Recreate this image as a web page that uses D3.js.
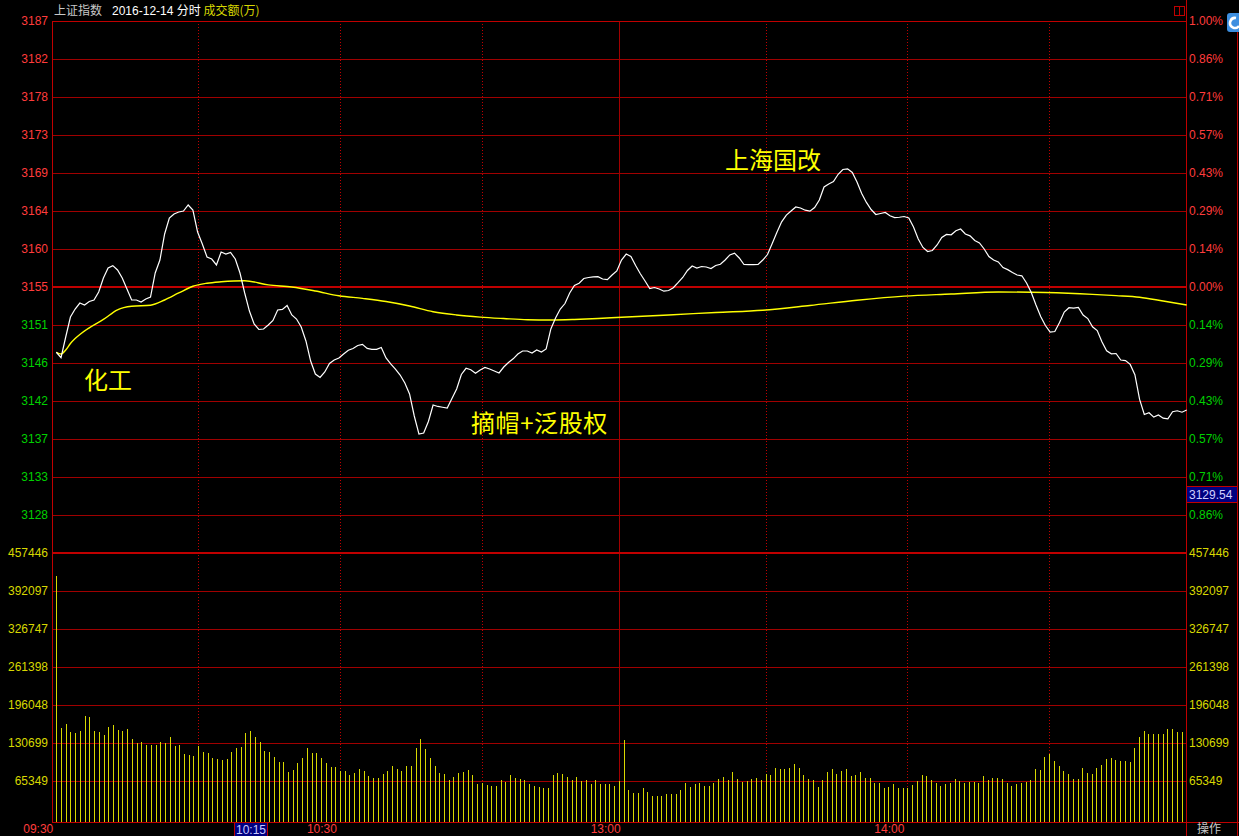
<!DOCTYPE html>
<html><head><meta charset="utf-8">
<script src="https://cdn.jsdelivr.net/npm/d3@7"></script>
<style>html,body{margin:0;padding:0;background:#000;overflow:hidden}</style>
</head><body>
<svg id="c" width="1239" height="836"></svg>
<script>
// ---------- data ----------
const prevClose = 3155.04;
const priceLabels = ["3187","3182","3178","3173","3169","3164","3160","3155","3151","3146","3142","3137","3133","3128"];
const pctLabels = ["1.00%","0.86%","0.71%","0.57%","0.43%","0.29%","0.14%","0.00%","0.14%","0.29%","0.43%","0.57%","0.71%","0.86%"];
const volLabels = ["457446","392097","326747","261398","196048","130699","65349"];
const volMax = 457446;
const timeLabels = ["09:30","10:30","13:00","14:00"];
const timeLabelIdx = [0,60,120,180];
const dottedIdx = [30,60,90,150,180,210];
const solidIdx = [119];
const prices = [3147.30,3146.65,3149.11,3151.48,3152.43,3153.14,3152.91,3153.32,3153.50,3154.45,
3156.11,3157.29,3157.57,3157.06,3156.11,3154.80,3153.50,3153.50,3153.26,3153.62,
3153.85,3156.70,3158.24,3161.33,3163.22,3163.70,3163.94,3164.05,3164.77,3164.17,
3161.56,3160.14,3158.60,3158.36,3157.65,3159.19,3158.95,3159.13,3158.36,3156.70,
3154.33,3152.19,3150.65,3150.00,3150.06,3150.53,3151.07,3152.31,3152.39,3152.85,
3151.72,3151.24,3150.30,3148.64,3146.26,3144.72,3144.31,3144.96,3145.97,3146.38,
3146.62,3147.09,3147.53,3147.75,3148.10,3148.24,3147.75,3147.65,3147.65,3147.86,
3146.62,3145.91,3145.31,3144.60,3143.65,3142.35,3139.74,3137.60,3137.72,3139.09,
3141.04,3140.87,3140.78,3140.69,3141.81,3142.94,3144.66,3145.40,3145.22,3144.80,
3145.20,3145.49,3145.31,3145.08,3144.84,3145.55,3146.09,3146.52,3147.09,3147.45,
3147.45,3147.21,3147.57,3147.33,3147.69,3150.06,3151.36,3152.43,3153.08,3154.33,
3155.22,3155.48,3156.05,3156.17,3156.23,3156.26,3155.99,3155.91,3156.46,3156.94,
3158.24,3158.95,3158.66,3157.59,3156.61,3155.75,3154.86,3154.98,3154.80,3154.54,
3154.62,3154.96,3155.55,3156.17,3157.00,3157.53,3157.29,3157.47,3157.41,3157.23,
3157.59,3157.74,3158.24,3158.84,3159.05,3158.48,3157.71,3157.69,3157.69,3157.71,
3158.24,3158.89,3160.20,3161.53,3162.77,3163.56,3164.05,3164.53,3164.41,3164.15,
3164.03,3164.47,3165.36,3166.90,3167.26,3167.55,3168.41,3168.98,3169.06,3168.62,
3167.49,3166.13,3165.07,3164.23,3163.64,3163.76,3163.88,3163.49,3163.28,3163.31,
3163.40,3163.22,3162.16,3160.73,3159.73,3159.25,3159.37,3160.02,3160.91,3161.27,
3161.23,3161.71,3161.92,3161.33,3161.11,3160.56,3160.26,3159.55,3158.66,3158.24,
3158.01,3157.35,3157.10,3156.76,3156.46,3156.37,3155.51,3154.39,3152.91,3151.54,
3150.47,3149.70,3149.76,3150.83,3152.07,3152.58,3152.53,3152.61,3151.72,3151.30,
3150.32,3149.88,3148.54,3147.47,3147.12,3147.15,3146.38,3146.31,3145.86,3144.64,
3141.70,3139.92,3140.13,3139.61,3139.86,3139.48,3139.41,3140.24,3140.36,3140.19,
3140.45];
const avgMinutes = [0,1,2,3,4,5,7,10,13,16,20,23,26,29,32,35,40,45,50,55,60,65,70,75,80,85,90,95,100,105,110,115,120,130,140,150,160,170,180,190,200,210,220,225,230,235,240];
const avgPrices = [3147.30,3147.09,3147.57,3148.34,3148.93,3149.41,3150.20,3151.19,3152.34,3152.75,3152.88,3153.50,3154.33,3155.13,3155.49,3155.66,3155.79,3155.29,3155.04,3154.57,3154.00,3153.69,3153.32,3152.79,3152.11,3151.72,3151.47,3151.30,3151.16,3151.13,3151.19,3151.30,3151.46,3151.72,3152.02,3152.29,3152.85,3153.47,3153.96,3154.21,3154.45,3154.38,3154.17,3154.02,3153.83,3153.38,3152.91];
const volumes = [417200,157500,164400,150100,148900,151800,178200,176400,151800,150100,
145500,159200,162700,153600,151800,155800,138100,131700,133400,128300,
128300,128300,133400,131700,142000,126600,128300,112800,111100,109400,
126600,116300,114500,105900,104200,102500,104200,116300,123100,124800,
148900,152400,142000,133400,118000,116300,107700,98000,99100,81900,
85300,97300,105900,123100,113500,113500,105900,97300,90500,90500,
82500,83600,76700,80100,87000,83600,75000,71500,71500,78400,
83600,92200,87000,83600,92200,92200,123100,138400,121200,105700,
92000,79900,77900,67600,72700,79600,81300,84800,76200,60700,
62400,59000,57300,57300,67600,64100,76200,71000,69300,67600,
60700,57300,55500,53800,53800,76200,79600,77900,72700,67600,
72700,65900,67600,60700,67600,60700,60700,60700,57300,65900,
136400,50400,45200,45200,53800,46900,40100,40100,40100,43500,
43500,43500,50400,62400,55500,60700,62400,57300,57300,62400,
69300,72700,67600,81300,69300,64100,65900,69300,71000,67600,
77900,76200,88200,86500,86500,88200,95100,88200,76200,69300,
67600,55500,67600,81300,86500,77900,83100,86500,74500,76200,
81300,71000,71000,62400,62400,53800,55500,60700,53800,53800,
53800,59000,65900,76200,74500,67600,62400,57300,60700,62400,
69300,65900,62400,64100,64100,62400,74500,67600,71000,71000,
69300,62400,57300,60700,62400,64100,67600,86500,84800,107100,
112300,100300,91700,83100,77900,69300,69300,88200,79600,77900,
88200,93400,103700,105400,102000,100300,100300,98500,122600,141500,
151800,146700,146700,146700,146700,155300,155300,150100,150100,220600];

// ---------- layout ----------
const svg = d3.select("#c");
const L = 52, R = 1186, T = 21, MID = 553, VBASE = 819.3, FBOT = 822;
const GRID = "#a00000", FRAME = "#c00000";
const RED = "#ff3c3c", GREEN = "#00d000", YEL = "#d8d800";
const FONT = "'Liberation Sans', Arial, sans-serif";
const CJK = "'Noto Sans CJK SC', sans-serif";

svg.append("rect").attr("width",1239).attr("height",836).attr("fill","#000");

const yPrice = d3.scaleLinear().domain([prevClose*0.99, prevClose*1.01]).range([MID, T]);
const yVol = d3.scaleLinear().domain([0, volMax]).range([VBASE, MID]);
const xLine = d3.scaleLinear().domain([0, prices.length-1]).range([56.3, 1186.7]);
const xBar = d3.scaleLinear().domain([0, volumes.length-1]).range([56.3, 1186.3]);

const g = svg.append("g").attr("shape-rendering","crispEdges");
const priceGridVals = d3.range(7,-8,-1).map(k => prevClose*(1+k/700));
priceGridVals.forEach((v,i) => {
  const y = Math.round(yPrice(v)) + 0.5;
  if (i === 7) return;
  g.append("line").attr("x1",L).attr("x2",R).attr("y1",y).attr("y2",y).attr("stroke",GRID);
});
const volGridVals = d3.range(6,0,-1).map(k => volMax*k/7);
volGridVals.forEach(v => {
  const y = Math.round(yVol(v)) + 0.5;
  g.append("line").attr("x1",L).attr("x2",R).attr("y1",y).attr("y2",y).attr("stroke",GRID);
});
dottedIdx.forEach(i => {
  const x = Math.round(xBar(i)) + 0.5;
  g.append("line").attr("x1",x).attr("x2",x).attr("y1",T).attr("y2",FBOT)
    .attr("stroke",FRAME).attr("stroke-dasharray","1,2");
});
solidIdx.forEach(i => {
  const x = Math.round(xBar(i)) + 0.5;
  g.append("line").attr("x1",x).attr("x2",x).attr("y1",T).attr("y2",FBOT).attr("stroke",GRID);
});

// volume bars
g.selectAll("line.vol").data(volumes).join("line").attr("class","vol")
  .attr("x1",(d,i)=>Math.round(xBar(i))+0.5).attr("x2",(d,i)=>Math.round(xBar(i))+0.5)
  .attr("y1",d=>yVol(d)).attr("y2",FBOT)
  .attr("stroke",YEL).attr("stroke-width",1);

const y0 = yPrice(prevClose);
g.append("rect").attr("x",L).attr("y",Math.round(y0)-1).attr("width",R-L).attr("height",2).attr("fill",FRAME);
g.append("rect").attr("x",L).attr("y",MID-1).attr("width",R-L).attr("height",2).attr("fill",FRAME);

// frame
g.append("line").attr("x1",L+0.5).attr("x2",L+0.5).attr("y1",T).attr("y2",FBOT+1).attr("stroke",FRAME);
g.append("line").attr("x1",L).attr("x2",R).attr("y1",T+0.5).attr("y2",T+0.5).attr("stroke",FRAME);
g.append("line").attr("x1",R+0.5).attr("x2",R+0.5).attr("y1",0).attr("y2",836).attr("stroke",FRAME);
g.append("line").attr("x1",L).attr("x2",1239).attr("y1",FBOT+0.5).attr("y2",FBOT+0.5).attr("stroke",FRAME);
g.append("line").attr("x1",1237.5).attr("x2",1237.5).attr("y1",T).attr("y2",836).attr("stroke",FRAME);

// avg line
svg.append("path").datum(avgPrices)
  .attr("d", d3.line().x((d,i)=>xLine(avgMinutes[i])).y(d=>yPrice(d)).curve(d3.curveMonotoneX))
  .attr("fill","none").attr("stroke","#ffff00").attr("stroke-width",1.4);
// price line
svg.append("path").datum(prices)
  .attr("d", d3.line().x((d,i)=>xLine(i)).y(d=>yPrice(d)))
  .attr("fill","none").attr("stroke","#ffffff").attr("stroke-width",1.2);

// cursor readout boxes (drawn before texts)
svg.append("rect").attr("x",1186.5).attr("y",486.5).attr("width",51).attr("height",16).attr("fill","#000080").attr("stroke",FRAME);
svg.append("rect").attr("x",234.5).attr("y",822.5).attr("width",33).attr("height",14).attr("fill","#000080").attr("stroke",FRAME);

// axis labels
const lab = svg.append("g").attr("font-family",FONT).attr("font-size",12);
priceGridVals.forEach((v,i) => {
  const y = yPrice(v) + 4;
  const col = i <= 7 ? RED : GREEN;
  lab.append("text").attr("x",48).attr("y",y).attr("text-anchor","end").attr("fill",col).text(priceLabels[i]);
  lab.append("text").attr("x",1189).attr("y",y).attr("fill",col).text(pctLabels[i]);
});
[volMax, ...volGridVals].forEach((v,i) => {
  const y = yVol(v) + 4;
  lab.append("text").attr("x",48).attr("y",y).attr("text-anchor","end").attr("fill",YEL).text(volLabels[i]);
  lab.append("text").attr("x",1189).attr("y",y).attr("fill",YEL).text(volLabels[i]);
});
timeLabels.forEach((t,i) => {
  lab.append("text").attr("x",xBar(timeLabelIdx[i])-3).attr("y",833).attr("text-anchor","end").attr("fill",RED).text(t);
});
lab.append("text").attr("x",1189).attr("y",499).attr("fill","#d0d0ff").text("3129.54");
lab.append("text").attr("x",236).attr("y",834).attr("fill","#c8c8ff").text("10:15");
svg.append("text").attr("x",1197).attr("y",833).attr("font-family",CJK).attr("font-size",12).attr("fill","#c8c8c8").text("操作");

// header
const hd = svg.append("text").attr("x",54).attr("y",15).attr("font-family",FONT+","+CJK).attr("font-size",12);
hd.append("tspan").attr("fill","#c8c8c8").attr("font-family",CJK).text("上证指数");
hd.append("tspan").attr("dx",10).attr("fill","#ffffff").text("2016-12-14 ");
hd.append("tspan").attr("fill","#ffffff").attr("font-family",CJK).text("分时 ");
hd.append("tspan").attr("fill",YEL).attr("font-family",CJK).text("成交额(万)");

// top-right icons
svg.append("rect").attr("x",1174.5).attr("y",6.5).attr("width",10).attr("height",9).attr("fill","none").attr("stroke",FRAME);
svg.append("line").attr("x1",1179.5).attr("x2",1179.5).attr("y1",6.5).attr("y2",15.5).attr("stroke",FRAME);
svg.append("rect").attr("x",1227).attr("y",13).attr("width",16).attr("height",19).attr("rx",3).attr("fill","#3d8fe0");
svg.append("path").attr("d","M1236,18 A5,5 0 1 0 1239,26").attr("fill","none").attr("stroke","#fff").attr("stroke-width",2.5);

// annotations
const ann = svg.append("g").attr("font-family",CJK).attr("font-size",24).attr("fill","#ffff00");
ann.append("text").attr("x",84).attr("y",389).text("化工");
ann.append("text").attr("x",471).attr("y",432).attr("letter-spacing",0.6).text("摘帽+泛股权");
ann.append("text").attr("x",725).attr("y",169).text("上海国改");
</script>
</body></html>
